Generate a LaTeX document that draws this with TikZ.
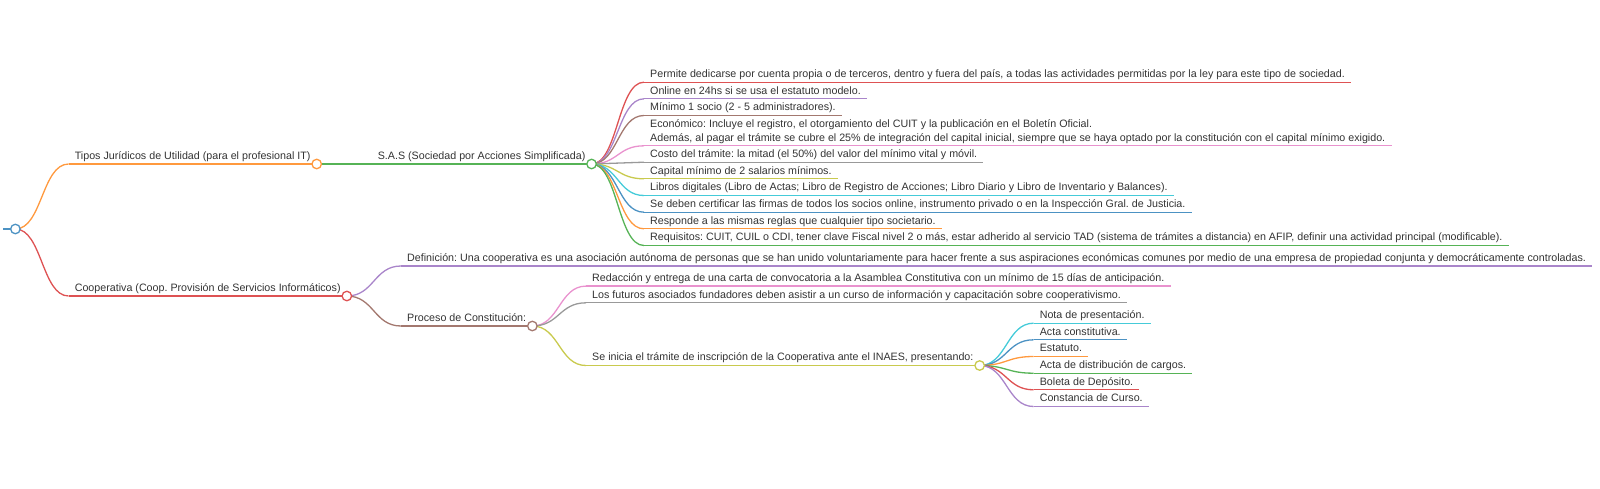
\documentclass[tikz,border=0pt]{standalone}
\usepackage{fontspec}
\setmainfont{Liberation Sans}
\usepackage{tikz}
\usetikzlibrary{calc}
\frenchspacing

\definecolor{mmblue}{HTML}{1F77B4}
\definecolor{mmorange}{HTML}{FF7F0E}
\definecolor{mmgreen}{HTML}{2CA02C}
\definecolor{mmred}{HTML}{D62728}
\definecolor{mmpurple}{HTML}{9467BD}
\definecolor{mmbrown}{HTML}{8C564B}
\definecolor{mmpink}{HTML}{E377C2}
\definecolor{mmgray}{HTML}{7F7F7F}
\definecolor{mmolive}{HTML}{BCBD22}
\definecolor{mmcyan}{HTML}{17BECF}
\definecolor{ink}{HTML}{333333}

\tikzset{
  topic/.style={anchor=south west, inner xsep=6pt, inner ysep=1.5pt, text depth=3pt,
    align=left, text=ink, font=\fontsize{10.7}{13.4}\selectfont},
  stem/.style={draw=#1!80!white, line width=1.3pt},
  knob/.style={circle, draw=#1!80!white, fill=white, line width=1.3pt,
    minimum size=9.5pt, inner sep=0pt}
}

% curved branch from a parent knob to the start of a child line
\newcommand{\mlink}[3]{%
  \draw[stem=#3] let \p1=(#1), \p2=(#2) in
    (\p1) .. controls ({(\x1+\x2)/2},\y1) and ({(\x1+\x2)/2},\y2) .. (\p2);}

\begin{document}
\begin{tikzpicture}[x=1pt,y=-1pt]
\useasboundingbox (0,0) rectangle (1600,488);

% root and first level
\node[topic] (root) at (3,229) {};
\node[topic] (tipos) at (68.6,164) {Tipos Jurídicos de Utilidad (para el profesional IT)};
\node[topic] (coop) at (68.6,296) {Cooperativa (Coop. Provisión de Servicios Informáticos)};

% second level
\node[topic] (sas) at (371.6,164) {S.A.S (Sociedad por Acciones Simplificada)};
\node[topic] (defin) at (401,266) {Definición: Una cooperativa es una asociación autónoma de personas que se han unido voluntariamente para hacer frente a sus aspiraciones económicas comunes por medio de una empresa de propiedad conjunta y democráticamente controladas.};
\node[topic] (proc) at (401,326) {Proceso de Constitución:};

% S.A.S
\node[topic] (s1) at (644,82.2) {Permite dedicarse por cuenta propia o de terceros, dentro y fuera del país, a todas las actividades permitidas por la ley para este tipo de sociedad.};
\node[topic] (s2) at (644,98.8) {Online en 24hs si se usa el estatuto modelo.};
\node[topic] (s3) at (644,115.5) {Mínimo 1 socio (2 - 5 administradores).};
\node[topic] (s4) at (644,145.8) {Económico: Incluye el registro, el otorgamiento del CUIT y la publicación en el Boletín Oficial.\\Además, al pagar el trámite se cubre el 25\% de integración del capital inicial, siempre que se haya optado por la constitución con el capital mínimo exigido.};
\node[topic] (s5) at (644,162.2) {Costo del trámite: la mitad (el 50\%) del valor del mínimo vital y móvil.};
\node[topic] (s6) at (644,178.8) {Capital mínimo de 2 salarios mínimos.};
\node[topic] (s7) at (644,195.5) {Libros digitales (Libro de Actas; Libro de Registro de Acciones; Libro Diario y Libro de Inventario y Balances).};
\node[topic] (s8) at (644,212.2) {Se deben certificar las firmas de todos los socios online, instrumento privado o en la Inspección Gral. de Justicia.};
\node[topic] (s9) at (644,228.8) {Responde a las mismas reglas que cualquier tipo societario.};
\node[topic] (s10) at (644,245.5) {Requisitos: CUIT, CUIL o CDI, tener clave Fiscal nivel 2 o más, estar adherido al servicio TAD (sistema de trámites a distancia) en AFIP, definir una actividad principal (modificable).};

% Proceso de Constitucion
\node[topic] (p1) at (586,286.1) {Redacción y entrega de una carta de convocatoria a la Asamblea Constitutiva con un mínimo de 15 días de anticipación.};
\node[topic] (p2) at (586,302.8) {Los futuros asociados fundadores deben asistir a un curso de información y capacitación sobre cooperativismo.};
\node[topic] (p3) at (586,365.5) {Se inicia el trámite de inscripción de la Cooperativa ante el INAES, presentando:};

% INAES
\node[topic] (i1) at (1033.6,323.2) {Nota de presentación.};
\node[topic] (i2) at (1033.6,339.8) {Acta constitutiva.};
\node[topic] (i3) at (1033.6,356.5) {Estatuto.};
\node[topic] (i4) at (1033.6,373.2) {Acta de distribución de cargos.};
\node[topic] (i5) at (1033.6,389.8) {Boleta de Depósito.};
\node[topic] (i6) at (1033.6,406.5) {Constancia de Curso.};

% underlines
\foreach \t/\col in {root/mmblue, tipos/mmorange, coop/mmred, sas/mmgreen, defin/mmpurple,
  proc/mmbrown, s1/mmred, s2/mmpurple, s3/mmbrown, s4/mmpink, s5/mmgray, s6/mmolive,
  s7/mmcyan, s8/mmblue, s9/mmorange, s10/mmgreen, p1/mmpink, p2/mmgray, p3/mmolive,
  i1/mmcyan, i2/mmblue, i3/mmorange, i4/mmgreen, i5/mmred, i6/mmpurple}
  \draw[stem=\col] (\t.south west) -- (\t.south east);

% branches
\mlink{root.south east}{tipos.south west}{mmorange}
\mlink{root.south east}{coop.south west}{mmred}
\mlink{tipos.south east}{sas.south west}{mmgreen}
\mlink{coop.south east}{defin.south west}{mmpurple}
\mlink{coop.south east}{proc.south west}{mmbrown}
\foreach \t/\col in {s1/mmred, s2/mmpurple, s3/mmbrown, s4/mmpink, s5/mmgray, s6/mmolive,
  s7/mmcyan, s8/mmblue, s9/mmorange, s10/mmgreen}
  \mlink{sas.south east}{\t.south west}{\col};
\foreach \t/\col in {p1/mmpink, p2/mmgray, p3/mmolive}
  \mlink{proc.south east}{\t.south west}{\col};
\foreach \t/\col in {i1/mmcyan, i2/mmblue, i3/mmorange, i4/mmgreen, i5/mmred, i6/mmpurple}
  \mlink{p3.south east}{\t.south west}{\col};

% knobs
\foreach \t/\col in {root/mmblue, tipos/mmorange, coop/mmred, sas/mmgreen, proc/mmbrown, p3/mmolive}
  \node[knob=\col] (\t-k) at (\t.south east) {};

\end{tikzpicture}
\end{document}
